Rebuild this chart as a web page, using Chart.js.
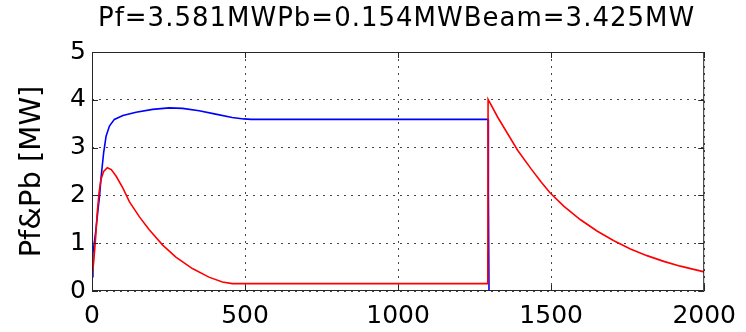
<!DOCTYPE html>
<html>
<head>
<meta charset="utf-8">
<script src="https://cdn.jsdelivr.net/npm/chart.js@4"></script>
<style>
  html, body { margin: 0; padding: 0; background: #fff; }
  #wrap { width: 746px; height: 332px; }
</style>
</head>
<body>
<div id="wrap"><canvas id="powerChart" width="746" height="332"></canvas></div>
<script>
const titleText = 'Pf=3.581MWPb=0.154MWBeam=3.425MW';
const yLabel = 'Pf&Pb [MW]';
const xTicks = [0, 500, 1000, 1500, 2000];
const yTicks = [0, 1, 2, 3, 4, 5];

// blue trace (Pf)
const pfTime = [0, 3, 12, 19, 25, 30, 38, 46, 57, 73, 101, 144, 198, 252, 296, 350, 404, 458, 496, 520, 1294, 1295, 1297];
const pfPower = [0.30, 0.79, 1.24, 1.66, 2.01, 2.40, 2.89, 3.24, 3.45, 3.59, 3.67, 3.74, 3.80, 3.83, 3.82, 3.77, 3.70, 3.63, 3.60, 3.59, 3.59, 2.05, 0];

// red trace (Pb)
const pbTime = [0, 6, 12, 17, 23, 29, 38, 50, 63, 79, 101, 122, 155, 187, 231, 274, 328, 382, 426, 458, 480, 1293, 1294, 1326, 1358, 1391, 1434, 1466, 1497, 1542, 1596, 1651, 1705, 1759, 1813, 1868, 1922, 2000];
const pbPower = [0.28, 0.64, 1.13, 1.63, 2.05, 2.33, 2.50, 2.58, 2.54, 2.40, 2.15, 1.87, 1.55, 1.28, 0.96, 0.71, 0.47, 0.29, 0.19, 0.155, 0.154, 0.154, 4.01, 3.63, 3.29, 2.94, 2.56, 2.29, 2.05, 1.77, 1.49, 1.25, 1.05, 0.88, 0.74, 0.62, 0.52, 0.40];

const toPoints = (xs, ys) => xs.map((v, i) => ({ x: v, y: ys[i] }));

// box round the plot with inward ticks on all four sides
const framePlugin = {
  id: 'frame',
  afterDatasetsDraw(chart) {
    const { ctx, chartArea: a, scales: { x, y } } = chart;
    const len = 6;
    ctx.save();
    ctx.strokeStyle = '#262626';
    ctx.lineWidth = 1;
    ctx.beginPath();
    ctx.rect(a.left + 0.5, a.top + 0.5, a.right - a.left - 1, a.bottom - a.top - 1);
    xTicks.forEach(v => {
      const px = Math.round(x.getPixelForValue(v)) + 0.5;
      ctx.moveTo(px, a.bottom);
      ctx.lineTo(px, a.bottom - len);
      ctx.moveTo(px, a.top);
      ctx.lineTo(px, a.top + len);
    });
    yTicks.forEach(v => {
      const py = Math.round(y.getPixelForValue(v)) + 0.5;
      ctx.moveTo(a.left, py);
      ctx.lineTo(a.left + len, py);
      ctx.moveTo(a.right, py);
      ctx.lineTo(a.right - len, py);
    });
    ctx.stroke();
    ctx.restore();
  }
};

const titlePlugin = {
  id: 'topTitle',
  afterDraw(chart) {
    const ctx = chart.ctx;
    ctx.save();
    ctx.font = '26px "DejaVu Sans"';
    ctx.letterSpacing = '1px';
    ctx.fillStyle = '#000';
    ctx.textAlign = 'left';
    ctx.textBaseline = 'alphabetic';
    ctx.fillText(titleText, 98, 26);
    ctx.restore();
  }
};

const tickFont = { family: 'DejaVu Sans', size: 25 };

new Chart(document.getElementById('powerChart'), {
  type: 'line',
  data: {
    datasets: [
      {
        label: 'Pb',
        data: toPoints(pbTime, pbPower),
        borderColor: '#ff0000',
        borderWidth: 1.6,
        pointRadius: 0,
        tension: 0,
        fill: false
      },
      {
        label: 'Pf',
        data: toPoints(pfTime, pfPower),
        borderColor: '#0000ff',
        borderWidth: 1.6,
        pointRadius: 0,
        tension: 0,
        fill: false
      }
    ]
  },
  options: {
    responsive: false,
    devicePixelRatio: 1,
    animation: false,
    layout: { padding: { top: 52, right: 39, left: 0, bottom: 0 } },
    plugins: {
      legend: { display: false },
      tooltip: { enabled: false },
      title: { display: false }
    },
    scales: {
      x: {
        type: 'linear',
        min: 0,
        max: 2000,
        afterBuildTicks: s => { s.ticks = xTicks.map(v => ({ value: v })); },
        afterFit: s => { s.height = 41; },
        ticks: {
          font: tickFont,
          color: '#000',
          padding: 10,
          maxRotation: 0,
          autoSkip: false,
          callback: v => String(v)
        },
        grid: { color: '#444', lineWidth: 1, drawTicks: false },
        border: { display: false, dash: [2, 5] }
      },
      y: {
        min: 0,
        max: 5,
        afterBuildTicks: s => { s.ticks = yTicks.map(v => ({ value: v })); },
        afterFit: s => { s.width = 92; },
        ticks: { font: tickFont, color: '#000', padding: 6, autoSkip: false, callback: v => String(v) },
        grid: { color: '#444', lineWidth: 1, drawTicks: false },
        border: { display: false, dash: [2, 5] },
        title: {
          display: true,
          text: yLabel,
          color: '#000',
          font: { family: 'DejaVu Sans', size: 29 },
          padding: { top: 15, bottom: 0 }
        }
      }
    }
  },
  plugins: [framePlugin, titlePlugin]
});
</script>
</body>
</html>
